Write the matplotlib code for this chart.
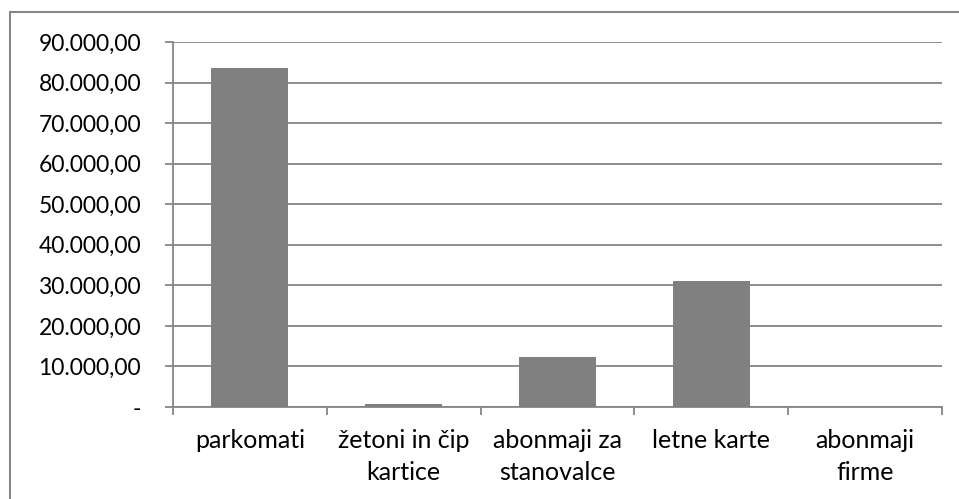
import numpy as np
import matplotlib.pyplot as plt
from matplotlib.patches import Rectangle
from matplotlib.ticker import FuncFormatter

categories = ["parkomati", "žetoni in čip\nkartice", "abonmaji za\nstanovalce", "letne karte", "abonmaji\nfirme"]
values = [83500, 700, 12300, 31000, 0]
y_ticks = [0, 10000, 20000, 30000, 40000, 50000, 60000, 70000, 80000, 90000]

plt.rcParams['font.family'] = ['Lato', 'DejaVu Sans']

W, H = 959, 499
fig = plt.figure(figsize=(W / 100, H / 100), dpi=100)
fig.patches.append(Rectangle((10 / W, -0.1), 1.2, 1 - 12 / H + 0.1, transform=fig.transFigure,
                             fill=False, edgecolor='#868686', linewidth=1.5))

ax = fig.add_axes([173 / W, 1 - 407 / H, (942 - 173) / W, (407 - 42) / H])
x = np.arange(len(categories))
ax.bar(x, values, width=0.5, color='#808080', zorder=3)

ax.set_xlim(-0.5, len(categories) - 0.5)
ax.set_ylim(0, 90000)
ax.set_yticks(y_ticks)

def fmt(v, pos):
    if v == 0:
        return "-"
    return f"{v:,.2f}".replace(",", "X").replace(".", ",").replace("X", ".")

ax.yaxis.set_major_formatter(FuncFormatter(fmt))
ax.grid(axis='y', color='#868686', linewidth=1.3, zorder=0)

ax.set_xticks(np.arange(len(categories) + 1) - 0.5)
ax.set_xticklabels([])
ax.set_xticks(x, minor=True)
ax.set_xticklabels(categories, minor=True, linespacing=1.45)
ax.tick_params(axis='x', which='major', direction='out', length=6, width=1.3, color='#868686')
ax.tick_params(axis='x', which='minor', length=0, pad=16, labelsize=18)
ax.tick_params(axis='y', direction='out', length=6, width=1.3, color='#868686', pad=17, labelsize=16.5)

for s in ['top', 'right']:
    ax.spines[s].set_visible(False)
for s in ['left', 'bottom']:
    ax.spines[s].set_color('#868686')
    ax.spines[s].set_linewidth(1.3)

fig.savefig("out.png", dpi=100)
